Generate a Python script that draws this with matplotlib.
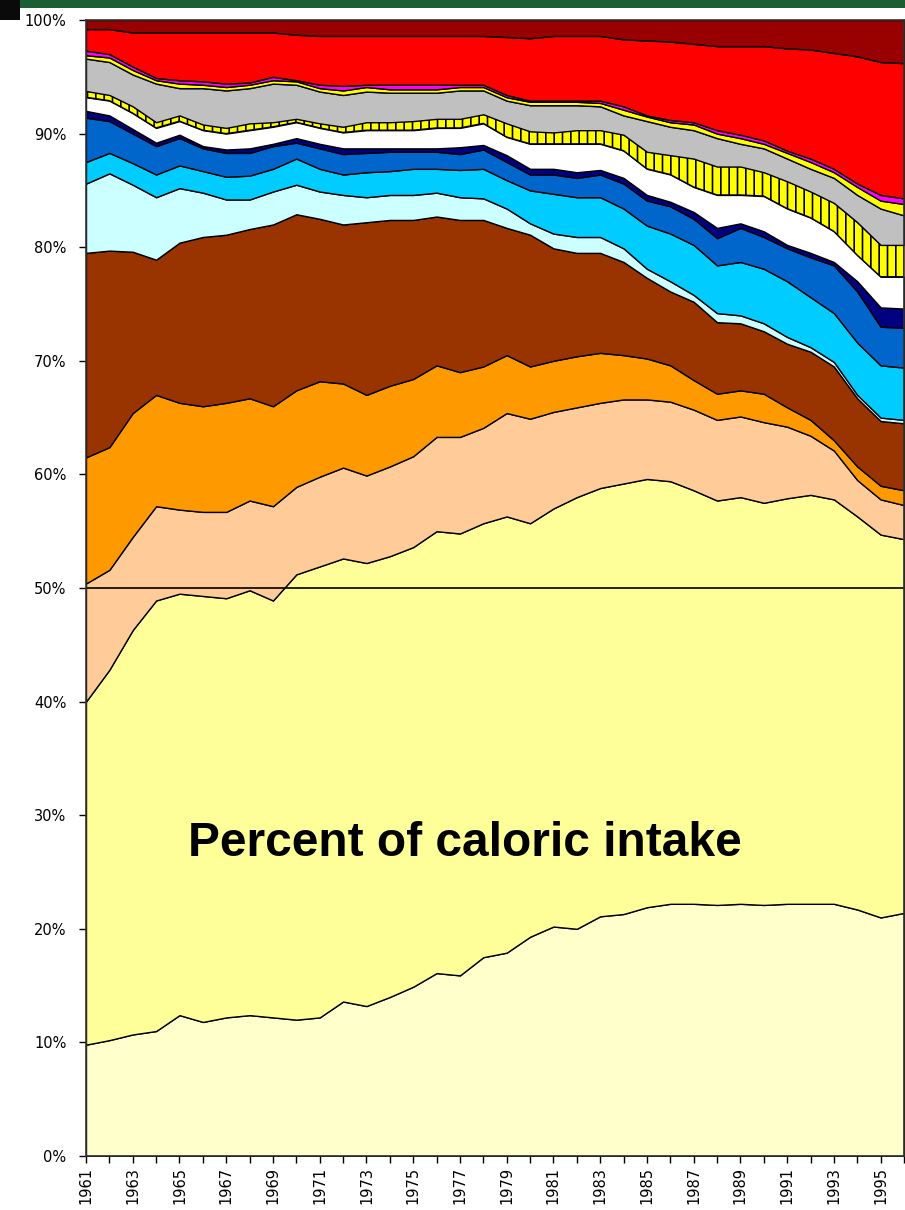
import numpy as np
import matplotlib
matplotlib.use("Agg")
import matplotlib.pyplot as plt
from matplotlib.patches import Rectangle

# years on the x axis
years = np.arange(1961, 1997)

# cumulative upper edge of each band (percent of caloric intake), bottom to top
cream_top = [9.8, 10.2, 10.7, 11.0, 12.4, 11.8, 12.2, 12.4, 12.2, 12.0, 12.2, 13.6,
             13.2, 14.0, 14.9, 16.1, 15.9, 17.5, 17.9, 19.3, 20.2, 20.0, 21.1, 21.3,
             21.9, 22.2, 22.2, 22.1, 22.2, 22.1, 22.2, 22.2, 22.2, 21.7, 21.0, 21.4]
paleyellow_top = [40.0, 42.8, 46.3, 48.9, 49.5, 49.3, 49.1, 49.8, 48.9, 51.2, 51.9, 52.6,
                  52.2, 52.8, 53.6, 55.0, 54.8, 55.7, 56.3, 55.7, 57.0, 58.0, 58.8, 59.2,
                  59.6, 59.4, 58.6, 57.7, 58.0, 57.5, 57.9, 58.2, 57.8, 56.3, 54.7, 54.3]
peach_top = [50.4, 51.6, 54.5, 57.2, 56.9, 56.7, 56.7, 57.7, 57.2, 58.9, 59.8, 60.6,
             59.9, 60.7, 61.6, 63.3, 63.3, 64.1, 65.4, 64.9, 65.5, 65.9, 66.3, 66.6,
             66.6, 66.4, 65.7, 64.8, 65.1, 64.6, 64.2, 63.4, 62.1, 59.5, 57.8, 57.3]
orange_top = [61.5, 62.4, 65.4, 67.0, 66.3, 66.0, 66.3, 66.7, 66.0, 67.4, 68.2, 68.0,
              67.0, 67.8, 68.4, 69.6, 69.0, 69.5, 70.5, 69.5, 70.0, 70.4, 70.7, 70.5,
              70.2, 69.6, 68.3, 67.1, 67.4, 67.1, 65.9, 64.8, 63.0, 60.7, 59.0, 58.6]
brown_top = [79.5, 79.7, 79.6, 78.9, 80.4, 80.9, 81.1, 81.6, 82.0, 82.9, 82.5, 82.0,
             82.2, 82.4, 82.4, 82.7, 82.4, 82.4, 81.7, 81.1, 79.9, 79.5, 79.5, 78.7,
             77.3, 76.1, 75.2, 73.4, 73.3, 72.6, 71.5, 70.8, 69.5, 66.7, 64.7, 64.5]
lightcyan_top = [85.6, 86.5, 85.5, 84.4, 85.2, 84.8, 84.2, 84.2, 84.9, 85.5, 84.9, 84.6,
                 84.4, 84.6, 84.6, 84.8, 84.4, 84.3, 83.4, 82.1, 81.2, 80.9, 80.9, 79.9,
                 78.1, 77.0, 75.8, 74.2, 74.0, 73.3, 72.1, 71.2, 69.9, 67.0, 65.0, 64.8]
skyblue_top = [87.5, 88.3, 87.4, 86.4, 87.2, 86.7, 86.2, 86.3, 86.9, 87.8, 86.9, 86.4,
               86.6, 86.7, 86.9, 86.9, 86.8, 86.9, 85.9, 85.0, 84.7, 84.4, 84.4, 83.4,
               81.9, 81.2, 80.2, 78.4, 78.7, 78.1, 77.0, 75.6, 74.2, 71.6, 69.6, 69.4]
blue_top = [91.4, 91.1, 90.0, 88.9, 89.6, 88.7, 88.3, 88.3, 88.9, 89.2, 88.7, 88.2,
            88.3, 88.4, 88.4, 88.4, 88.2, 88.6, 87.5, 86.4, 86.4, 86.1, 86.4, 85.6,
            84.1, 83.6, 82.5, 80.8, 81.7, 80.9, 79.9, 79.1, 78.4, 76.1, 73.0, 72.9]
navy_top = [92.0, 91.6, 90.4, 89.2, 89.9, 88.9, 88.6, 88.7, 89.1, 89.6, 89.1, 88.7,
            88.7, 88.7, 88.7, 88.7, 88.8, 89.0, 88.1, 86.9, 86.9, 86.6, 86.8, 86.1,
            84.6, 84.0, 83.1, 81.7, 82.1, 81.4, 80.2, 79.5, 78.7, 77.0, 74.7, 74.6]
white_top = [93.2, 92.9, 91.8, 90.5, 91.1, 90.3, 90.0, 90.3, 90.6, 91.0, 90.5, 90.1,
             90.3, 90.3, 90.3, 90.5, 90.5, 90.9, 89.7, 89.1, 89.1, 89.1, 89.1, 88.5,
             86.9, 86.4, 85.3, 84.6, 84.6, 84.5, 83.4, 82.6, 81.4, 79.3, 77.4, 77.4]
hatched_top = [93.75, 93.4, 92.4, 91.0, 91.6, 90.8, 90.5, 90.9, 91.0, 91.3, 90.9, 90.6,
               91.0, 91.0, 91.1, 91.3, 91.3, 91.7, 90.9, 90.2, 90.1, 90.3, 90.3, 89.9,
               88.4, 88.1, 87.8, 87.1, 87.1, 86.6, 85.8, 84.9, 83.9, 82.2, 80.2, 80.2]
gray_top = [96.6, 96.3, 95.2, 94.4, 94.0, 94.0, 93.8, 94.0, 94.4, 94.3, 93.7, 93.4,
            93.7, 93.6, 93.6, 93.6, 93.8, 93.8, 92.9, 92.5, 92.5, 92.5, 92.4, 91.6,
            91.1, 90.6, 90.3, 89.6, 89.1, 88.7, 87.8, 86.9, 86.1, 84.6, 83.4, 82.8]
yellow_top = [96.9, 96.7, 95.6, 94.7, 94.4, 94.3, 94.1, 94.3, 94.7, 94.6, 94.0, 93.8,
              94.1, 93.9, 93.9, 93.9, 94.1, 94.1, 93.2, 92.8, 92.8, 92.8, 92.7, 92.1,
              91.5, 91.0, 90.8, 90.0, 89.6, 89.1, 88.3, 87.5, 86.6, 85.3, 84.1, 83.8]
magenta_top = [97.3, 97.0, 95.9, 94.9, 94.7, 94.6, 94.4, 94.5, 95.0, 94.7, 94.3, 94.2,
               94.3, 94.3, 94.3, 94.3, 94.3, 94.3, 93.4, 92.9, 92.9, 92.9, 92.9, 92.4,
               91.6, 91.2, 91.0, 90.3, 89.9, 89.4, 88.5, 87.8, 86.9, 85.6, 84.6, 84.3]
red_top = [99.2, 99.2, 98.9, 98.9, 98.9, 98.9, 98.9, 98.9, 98.9, 98.7, 98.6, 98.6,
           98.6, 98.6, 98.6, 98.6, 98.6, 98.6, 98.5, 98.4, 98.6, 98.6, 98.6, 98.3,
           98.2, 98.1, 97.9, 97.7, 97.7, 97.7, 97.5, 97.4, 97.1, 96.8, 96.3, 96.2]
darkred_top = [100.0] * len(years)

tops = [cream_top, paleyellow_top, peach_top, orange_top, brown_top, lightcyan_top,
        skyblue_top, blue_top, navy_top, white_top, hatched_top, gray_top,
        yellow_top, magenta_top, red_top, darkred_top]
colors = ["#FFFFCC", "#FFFF99", "#FFCC99", "#FF9900", "#993300", "#CCFFFF",
          "#00CCFF", "#0066CC", "#000080", "#FFFFFF", "#FFFF00", "#C0C0C0",
          "#FFFF00", "#FF00FF", "#FF0000", "#990000"]

fig = plt.figure(figsize=(9.05, 12.1), dpi=100)
ax = fig.add_axes([86 / 905, 54 / 1210, 818 / 905, 1136 / 1210])

plt.rcParams["hatch.linewidth"] = 1.2
lower = np.zeros(len(years))
for i, (top, c) in enumerate(zip(tops, colors)):
    top = np.asarray(top)
    poly = ax.fill_between(years, lower, top, facecolor=c, edgecolor="black",
                           linewidth=1.0)
    if i == 10:
        poly.set_hatch("||")
    lower = top

ax.axhline(50, color="black", linewidth=1.2)

ax.set_xlim(1961, 1996)
ax.set_ylim(0, 100)
ax.set_yticks(np.arange(0, 101, 10))
ax.set_yticklabels([f"{v}%" for v in range(0, 101, 10)])
ax.set_xticks(years)
ax.set_xticklabels([str(y) if (y - 1961) % 2 == 0 else "" for y in years], rotation=90)
ax.tick_params(axis="both", direction="out", length=5, width=1, labelsize=10.5,
               colors="black")
ax.tick_params(axis="y", pad=9)
ax.tick_params(axis="x", pad=3)
for s in ax.spines.values():
    s.set_color("#333333")
    s.set_linewidth(1.2)

ax.text(0.463, 0.2755, "Percent of caloric intake",
        transform=ax.transAxes, ha="center", va="center", fontsize=34.5,
        fontweight="bold", family="Liberation Sans")

# dark green banner strip at the very top
fig.patches.append(Rectangle((0, 1 - 8 / 1210), 1, 8 / 1210, transform=fig.transFigure,
                             facecolor="#1c5e34", edgecolor="none"))
fig.patches.append(Rectangle((0, 1 - 20 / 1210), 20 / 905, 20 / 1210,
                             transform=fig.transFigure, facecolor="#0a0a0a",
                             edgecolor="none"))

fig.savefig("out.png", dpi=100)
